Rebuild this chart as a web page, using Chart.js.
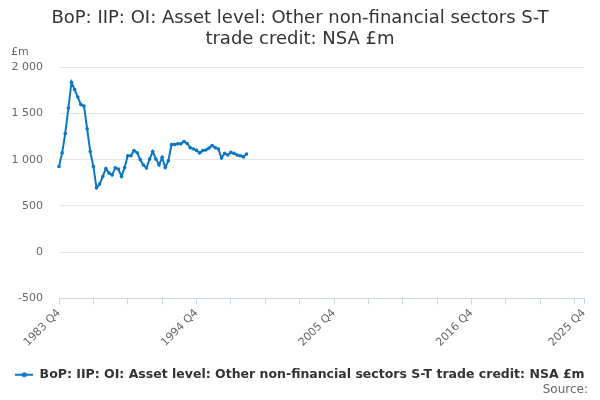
<!DOCTYPE html>
<html>
<head>
<meta charset="utf-8">
<script src="https://cdn.jsdelivr.net/npm/chart.js@4"></script>
<style>
html,body{margin:0;padding:0;background:#fff;}
#wrap{width:600px;height:400px;position:relative;}
</style>
</head>
<body>
<div id="wrap"><canvas id="c" width="600" height="400"></canvas></div>
<script>
// ---- data ----
const startYear = 1983, endYear = 2025;
const seriesName = "BoP: IIP: OI: Asset level: Other non-financial sectors S-T trade credit: NSA £m";
const titleLines = ["BoP: IIP: OI: Asset level: Other non-financial sectors S-T", "trade credit: NSA £m"];
const yTicks = [-500, 0, 500, 1000, 1500, 2000];
const xLabelTicks = ["1983 Q4", "1994 Q4", "2005 Q4", "2016 Q4", "2025 Q4"];
const values = [
  927, 1073, 1283, 1558, 1837, 1758, 1677, 1595, 1580, 1334,
  1087, 927, 696, 736, 818, 905, 855, 834, 913, 899,
  818, 916, 1043, 1043, 1098, 1075, 1000, 942, 910, 1008,
  1087, 1008, 942, 1025, 916, 989, 1163, 1163, 1171, 1171,
  1196, 1175, 1130, 1116, 1100, 1073, 1098, 1105, 1125, 1152,
  1130, 1116, 1018, 1068, 1051, 1079, 1068, 1050, 1043, 1030,
  1060
];

// categories: every quarter from 1983 Q4 to 2025 Q4
const categories = [];
categories.push(startYear + " Q4");
for (let y = startYear + 1; y <= endYear; y++) {
  for (let q = 1; q <= 4; q++) categories.push(y + " Q" + q);
}
const lastIdx = categories.length - 1;

const lineColor = '#0a77c4';

// legend marker: line with a dot
const mk = document.createElement('canvas');
mk.width = 18; mk.height = 10;
(function(){
  const g = mk.getContext('2d');
  g.strokeStyle = lineColor; g.lineWidth = 2;
  g.beginPath(); g.moveTo(0,5); g.lineTo(18,5); g.stroke();
  g.fillStyle = lineColor; g.beginPath(); g.arc(9,5,2.5,0,Math.PI*2); g.fill();
})();

const textPlugin = {
  id: 'extraText',
  afterDraw(chart) {
    const ctx = chart.ctx;
    ctx.save();
    ctx.font = '11px "DejaVu Sans"';
    ctx.fillStyle = '#666';
    ctx.textAlign = 'left';
    ctx.textBaseline = 'middle';
    ctx.fillText('£m', 11, 52);
    ctx.textAlign = 'right';
    ctx.font = '12px "DejaVu Sans"';
    ctx.fillText('Source:', 588, 390);
    ctx.restore();
  }
};

const fmt = v => String(v).replace(/\B(?=(\d{3})+(?!\d))/g, ' ');

new Chart(document.getElementById('c'), {
  type: 'line',
  data: {
    labels: categories,
    datasets: [{
      label: seriesName,
      data: values,
      borderColor: lineColor,
      backgroundColor: lineColor,
      borderWidth: 2,
      pointRadius: 1.8,
      pointHoverRadius: 3,
      pointBackgroundColor: lineColor,
      pointBorderWidth: 0,
      tension: 0,
      spanGaps: false
    }]
  },
  options: {
    responsive: false,
    animation: false,
    devicePixelRatio: 1,
    layout: { padding: { left: 0, right: 0, top: 0, bottom: 9 } },
    plugins: {
      title: {
        display: true,
        text: titleLines,
        color: '#333',
        font: { family: 'DejaVu Sans', size: 18, weight: 'normal', lineHeight: 1.17 },
        padding: { top: 8, bottom: 17 }
      },
      legend: {
        display: true,
        position: 'bottom',
        labels: {
          color: '#333',
          font: { family: 'DejaVu Sans', size: 12.5, weight: 'bold' },
          usePointStyle: true,
          pointStyle: mk,
          pointStyleWidth: 18,
          boxHeight: 10,
          padding: 4,
          generateLabels(chart) {
            const ds = chart.data.datasets[0];
            return [{ text: ds.label, pointStyle: mk, fillStyle: lineColor, strokeStyle: lineColor, lineWidth: 0, datasetIndex: 0, fontColor: '#333' }];
          }
        }
      },
      tooltip: { enabled: false }
    },
    scales: {
      x: {
        type: 'category',
        grid: { display: true, drawOnChartArea: false, drawTicks: true, tickLength: 6, color: '#ccd6eb', lineWidth: 1 },
        border: { display: true, color: '#ccd6eb', width: 1 },
        ticks: {
          autoSkip: false,
          maxRotation: 45,
          minRotation: 45,
          color: '#666',
          font: { family: 'DejaVu Sans', size: 11 },
          padding: 2,
          callback(val, i) {
            if (i % 11 === 0 || i === lastIdx) {
              const lab = categories[i];
              return xLabelTicks.includes(lab) ? lab : '';
            }
            return null;
          }
        },
        afterFit(scale) { scale.height = 66; }
      },
      y: {
        min: yTicks[0],
        max: yTicks[yTicks.length - 1],
        afterBuildTicks(scale) { scale.ticks = yTicks.map(v => ({ value: v })); },
        grid: { color: '#e6e6e6', drawTicks: false, lineWidth: 1 },
        border: { display: false },
        ticks: {
          color: '#666',
          font: { family: 'DejaVu Sans', size: 11 },
          padding: 16,
          callback: v => fmt(v)
        },
        afterFit(scale) { scale.width = 59; }
      },
      yRight: {
        position: 'right',
        min: 0, max: 1,
        display: true,
        grid: { display: false, drawTicks: false },
        border: { display: false },
        ticks: { display: false },
        afterFit(scale) { scale.width = 16; }
      }
    }
  },
  plugins: [textPlugin]
});
</script>
</body>
</html>
